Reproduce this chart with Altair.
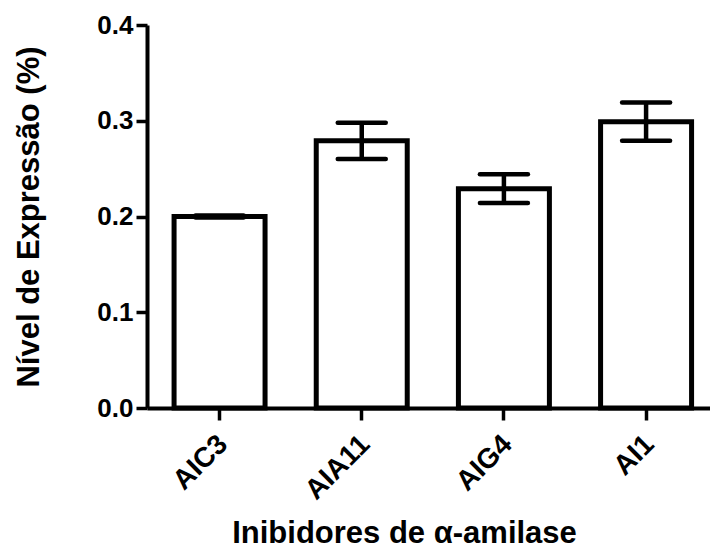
import altair as alt
import pandas as pd

categories = ["AIC3", "AIA11", "AIG4", "AI1"]
means = [0.200, 0.279, 0.229, 0.299]
sems = [0.001, 0.019, 0.015, 0.020]
y_ticks = [0.0, 0.1, 0.2, 0.3, 0.4]

df = pd.DataFrame({"cat": categories, "mean": means, "sem": sems})
df["lo"] = df["mean"] - df["sem"]
df["hi"] = df["mean"] + df["sem"]

FONT = "Liberation Sans"

x_enc = alt.X(
    "cat:N",
    sort=categories,
    scale=alt.Scale(paddingInner=0.36, paddingOuter=0.16, align=0.595),
    axis=alt.Axis(
        title="Inibidores de α-amilase",
        titleFont=FONT, titleFontSize=31, titleFontWeight="bold", titleColor="black",
        titleX=257, titleY=134, titleAlign="center", titleBaseline="alphabetic", titleAnchor="start",
        labelFont=FONT, labelFontSize=28, labelFontWeight="bold", labelColor="black",
        labelAngle=-45, labelAlign="right", labelBaseline="top", labelPadding=10, labelOffset=-6,
        domainColor="black", domainWidth=4,
        tickColor="black", tickWidth=3.5, tickSize=12,
        grid=False,
    ),
)

y_scale = alt.Scale(domain=[0, 0.4], nice=False, zero=True)
y_axis = alt.Axis(
    title="Nível de Expressão (%)",
    titleFont=FONT, titleFontSize=31, titleFontWeight="bold", titleColor="black",
    titleX=-109, titleY=191.5, titleAngle=-90, titleAlign="center", titleBaseline="alphabetic",
    labelFont=FONT, labelFontSize=26, labelFontWeight="bold", labelColor="black",
    labelPadding=3, format=".1f", values=y_ticks,
    domainColor="black", domainWidth=4,
    tickColor="black", tickWidth=3.5, tickSize=11,
    grid=False,
)

base = alt.Chart(df)

bars = base.mark_bar(fill="white", stroke="black", strokeWidth=5, strokeJoin="miter").encode(
    x=x_enc,
    y=alt.Y("mean:Q", scale=y_scale, axis=y_axis),
)

stem = base.mark_rule(color="black", strokeWidth=4.5).encode(
    x=alt.X("cat:N", sort=categories),
    y=alt.Y("lo:Q"),
    y2="hi:Q",
)

cap_hi = base.mark_rule(color="black", strokeWidth=4.5, strokeCap="round", xOffset=-24, x2Offset=24).encode(
    x=alt.X("cat:N", sort=categories),
    x2="cat:N",
    y=alt.Y("hi:Q"),
)

cap_lo = base.mark_rule(color="black", strokeWidth=4.5, strokeCap="round", xOffset=-24, x2Offset=24).encode(
    x=alt.X("cat:N", sort=categories),
    x2="cat:N",
    y=alt.Y("lo:Q"),
)

chart = alt.layer(bars, stem, cap_hi, cap_lo).properties(
    width=563,
    height=383,
    autosize=alt.AutoSizeParams(type="none"),
    padding={"left": 147, "top": 25, "right": 0, "bottom": 140},
    background="white",
).configure_view(stroke=None)

chart.save("out.html", embed_options={"renderer": "svg", "actions": False})
